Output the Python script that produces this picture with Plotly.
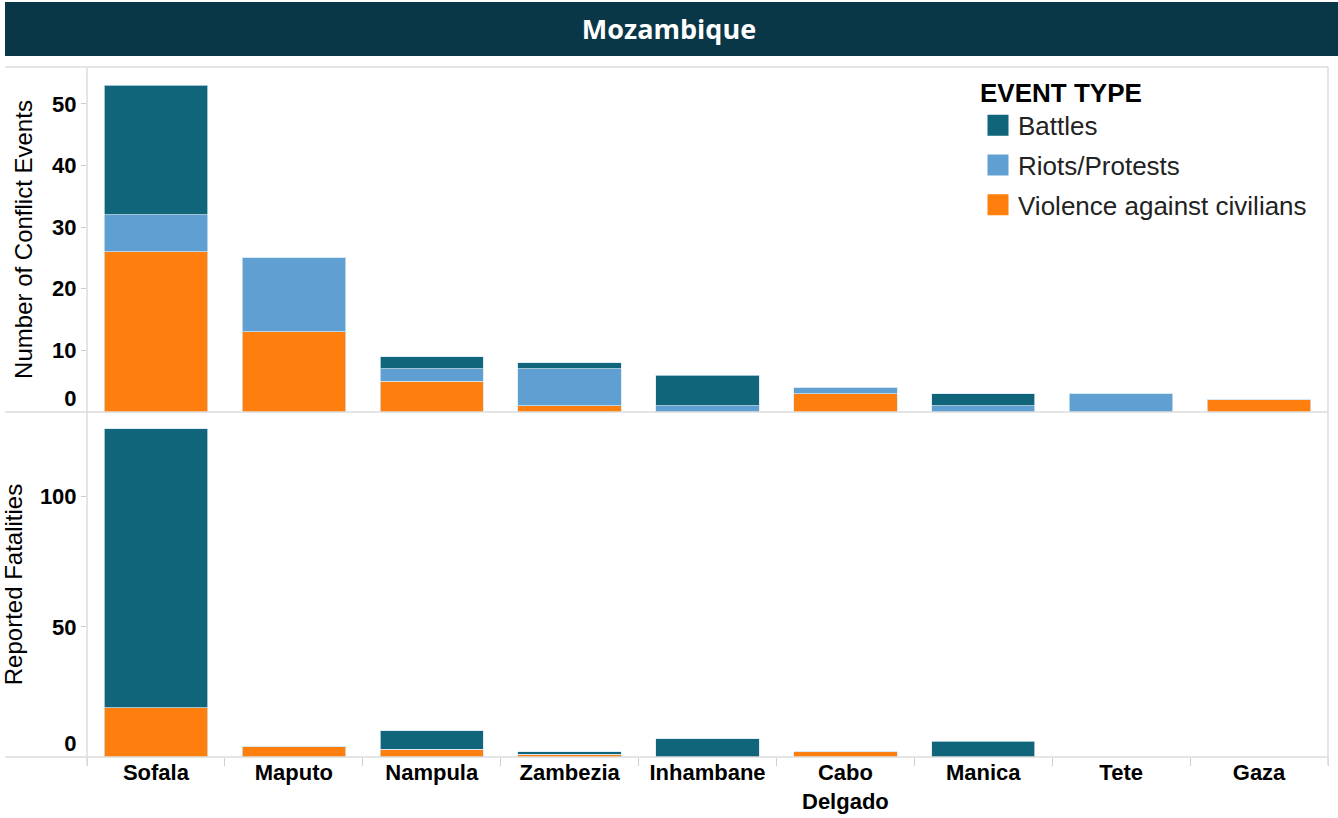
import plotly.graph_objects as go
from plotly.subplots import make_subplots

provinces = ["Sofala", "Maputo", "Nampula", "Zambezia", "Inhambane",
             "Cabo Delgado", "Manica", "Tete", "Gaza"]
tick_text = ["Sofala", "Maputo", "Nampula", "Zambezia", "Inhambane",
             "Cabo<br>Delgado", "Manica", "Tete", "Gaza"]

# Number of conflict events
events_battles = [21, 0, 2, 1, 5, 0, 2, 0, 0]
events_riots = [6, 12, 2, 6, 1, 1, 1, 3, 0]
events_violence = [26, 13, 5, 1, 0, 3, 0, 0, 2]

# Reported fatalities
fat_battles = [107, 0, 7, 1, 7, 0, 6, 0, 0]
fat_riots = [0, 0, 0, 0, 0, 0, 0, 0, 0]
fat_violence = [19, 4, 3, 1, 0, 2, 0, 0, 0]

events_ticks = [10, 20, 30, 40, 50]
fat_ticks = [50, 100]

series = [
    ("Violence against civilians", "#ff7f0e", events_violence, fat_violence),
    ("Riots/Protests", "#5f9fd1", events_riots, fat_riots),
    ("Battles", "#10657a", events_battles, fat_battles),
]

fig = make_subplots(rows=2, cols=1, shared_xaxes=True, vertical_spacing=0)

edge = dict(color="rgba(215,232,242,0.9)", width=0.8)
# stacked bars: first trace at the bottom
for name, color, ev, fat in series:
    fig.add_trace(go.Bar(x=provinces, y=ev, name=name,
                         marker=dict(color=color, line=edge),
                         showlegend=False), row=1, col=1)
    fig.add_trace(go.Bar(x=provinces, y=fat, name=name,
                         marker=dict(color=color, line=edge),
                         showlegend=False), row=2, col=1)

# legend entries (Battles first) with larger square swatches;
# they live on overlay axes that carry the raised "0" labels
overlay_axes = ["y3", "y3", "y4"]
for (name, color, ev, fat), ya in zip(reversed(series), overlay_axes):
    fig.add_trace(go.Scatter(x=[None], y=[None], mode="markers", name=name,
                             legendgroup=name, showlegend=True,
                             xaxis="x2" if ya == "y4" else "x", yaxis=ya,
                             marker=dict(symbol="square", size=16, color=color,
                                         line=dict(color=color, width=5))))

W, H = 1338, 818
L, R, T, B = 87, 10, 67, 61
pw = W - L - R
ph = H - T - B
split = (757 - 412) / ph

font_family = "Liberation Sans, Arial, sans-serif"
tick_font = dict(size=22, weight="bold", color="black")
ev_range = [0, 56]
fat_range = [0, 132.5]

fig.update_layout(
    width=W, height=H,
    margin=dict(l=L, r=R, t=T, b=B, autoexpand=False),
    paper_bgcolor="white", plot_bgcolor="white",
    barmode="stack", bargap=0.25,
    font=dict(family=font_family, color="black"),
    title=dict(text="<b>Mozambique</b>", x=0.5, xanchor="center", xref="container",
               y=1 - 30 / H, yanchor="middle", yref="container",
               font=dict(family="Open Sans, sans-serif", size=27, color="white")),
    legend=dict(title=dict(text="<b>EVENT TYPE</b>", font=dict(size=26, color="black")),
                font=dict(size=26, color="#222"),
                traceorder="grouped", tracegroupgap=3,
                x=(978 - L) / pw, xanchor="left", y=(757 - 68) / ph, yanchor="top",
                bgcolor="rgba(0,0,0,0)", itemsizing="trace"),
    showlegend=True,
)

fig.update_yaxes(domain=[split, 1], range=ev_range, row=1, col=1,
                 tickvals=events_ticks,
                 title=dict(text="Number of Conflict Events", font=dict(size=24), standoff=12))
fig.update_yaxes(domain=[0, split], range=fat_range, row=2, col=1,
                 tickvals=fat_ticks,
                 title=dict(text="Reported Fatalities", font=dict(size=24), standoff=12))
fig.update_yaxes(showgrid=False, zeroline=False, showline=False, automargin=False,
                 ticks="outside", ticklen=5, tickcolor="#cccccc", tickfont=tick_font)

zero_axis = dict(side="left", tickvals=[0], ticks="outside", ticklen=5,
                 tickcolor="rgba(0,0,0,0)", showgrid=False, zeroline=False,
                 showline=False, automargin=False, ticklabelshift=-14, tickfont=tick_font)
fig.update_layout(
    yaxis3=dict(zero_axis, overlaying="y", anchor="x", range=ev_range),
    yaxis4=dict(zero_axis, overlaying="y2", anchor="x2", range=fat_range),
)

fig.update_xaxes(showgrid=False, zeroline=False, showline=False, automargin=False,
                 tickson="boundaries", ticks="outside", ticklen=8, tickcolor="#d0d0d0",
                 tickvals=provinces, ticktext=tick_text, tickfont=tick_font)
fig.update_xaxes(showticklabels=False, ticks="", row=1, col=1)

line = dict(color="#dcdcdc", width=1.5)
def px_x(x):
    return (x - L) / pw
def px_y(y):
    return (H - B - y) / ph

shapes = [
    # title bar
    dict(type="rect", xref="paper", yref="paper", x0=px_x(5), x1=px_x(1340),
         y0=px_y(56), y1=px_y(2), fillcolor="#0a3747", line=dict(width=0), layer="below"),
    # horizontal dividers
    dict(type="line", xref="paper", yref="paper", x0=px_x(5), x1=1, y0=1, y1=1, line=line),
    dict(type="line", xref="paper", yref="paper", x0=px_x(5), x1=1, y0=split, y1=split, line=line),
    dict(type="line", xref="paper", yref="paper", x0=px_x(5), x1=1, y0=0, y1=0, line=line),
    # vertical dividers
    dict(type="line", xref="paper", yref="paper", x0=0, x1=0, y0=px_y(765), y1=1, line=line),
    dict(type="line", xref="paper", yref="paper", x0=1, x1=1, y0=px_y(765), y1=1, line=line),
]
fig.update_layout(shapes=shapes)

fig.write_html("out.html", config={"displayModeBar": False},
               post_script="document.body.style.margin='0';")
